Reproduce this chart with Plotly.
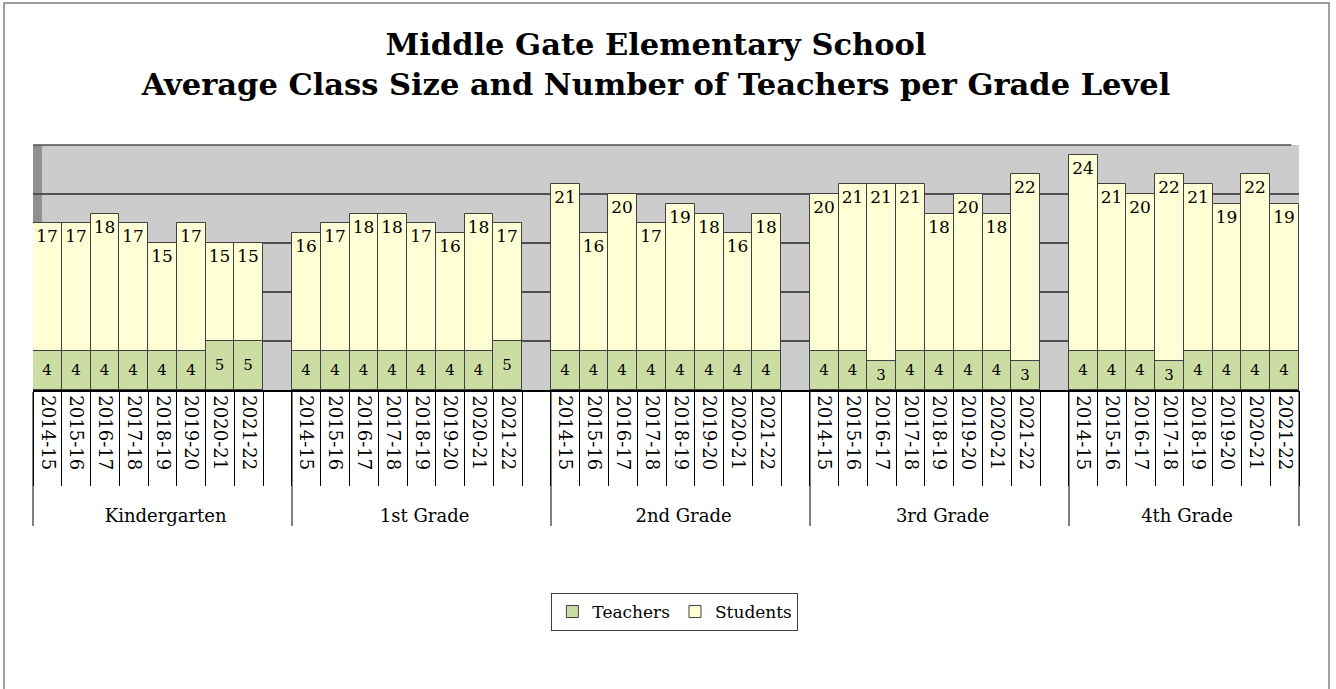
import plotly.graph_objects as go

grades = ["Kindergarten", "1st Grade", "2nd Grade", "3rd Grade", "4th Grade"]
years = ["2014-15", "2015-16", "2016-17", "2017-18", "2018-19", "2019-20", "2020-21", "2021-22"]

students_k = [17, 17, 18, 17, 15, 17, 15, 15]
students_1 = [16, 17, 18, 18, 17, 16, 18, 17]
students_2 = [21, 16, 20, 17, 19, 18, 16, 18]
students_3 = [20, 21, 21, 21, 18, 20, 18, 22]
students_4 = [24, 21, 20, 22, 21, 19, 22, 19]

teachers_k = [4, 4, 4, 4, 4, 4, 5, 5]
teachers_1 = [4, 4, 4, 4, 4, 4, 4, 5]
teachers_2 = [4, 4, 4, 4, 4, 4, 4, 4]
teachers_3 = [4, 4, 3, 4, 4, 4, 4, 3]
teachers_4 = [4, 4, 4, 3, 4, 4, 4, 4]

students = [students_k, students_1, students_2, students_3, students_4]
teachers = [teachers_k, teachers_1, teachers_2, teachers_3, teachers_4]

PAD = "\u00a0\u00a0\u00a0"  # keeps the grade labels a little below the year labels
outer, inner, s_vals, t_vals = [], [], [], []
for gi, g in enumerate(grades):
    for yi, yr in enumerate(years):
        outer.append(g)
        inner.append(yr + PAD)
        s_vals.append(students[gi][yi])
        t_vals.append(teachers[gi][yi])
    if gi < len(grades) - 1:
        outer.append(g)
        inner.append(" ")
        s_vals.append(None)
        t_vals.append(None)

n = len(outer)
FONT = "DejaVu Serif"
EDGE = "#404040"

fig = go.Figure()
fig.add_trace(go.Bar(
    x=[outer, inner], y=s_vals, name="Students",
    marker=dict(color="#ffffd5", line=dict(color=EDGE, width=1)),
    text=[str(v) if v is not None else "" for v in s_vals],
    textposition="inside", insidetextanchor="end", textangle=0,
    textfont=dict(family=FONT, size=17, color="black"),
    constraintext="none", hoverinfo="x+y+name",
))
fig.add_trace(go.Bar(
    x=[outer, inner], y=t_vals, name="Teachers",
    marker=dict(color="#cbdda3", line=dict(color=EDGE, width=1)),
    text=[str(v) if v is not None else "" for v in t_vals],
    textposition="inside", insidetextanchor="middle", textangle=0,
    textfont=dict(family=FONT, size=15, color="black"),
    constraintext="none", hoverinfo="x+y+name",
))
# invisible helper on a second x axis: draws the long separators between year labels
fig.add_trace(go.Scatter(
    x=list(range(n)), y=[None] * n, xaxis="x2", mode="lines",
    showlegend=False, hoverinfo="skip",
))

# chart frame, 3-D side wall and top edge of the back wall
fig.add_shape(type="rect", xref="paper", yref="paper",
              x0=-0.0229, x1=1.0237, y0=-1.3, y1=1.5796,
              line=dict(color="#808080", width=1.5), fillcolor="rgba(0,0,0,0)", layer="below")
fig.add_shape(type="rect", xref="paper", yref="paper",
              x0=0, x1=0.007, y0=0, y1=1,
              line=dict(width=0), fillcolor="#8f8f8f", layer="below")
fig.add_shape(type="line", xref="paper", yref="paper",
              x0=0, x1=0.994, y0=1, y1=1,
              line=dict(color="#505050", width=1.5), layer="below")

fig.update_layout(
    width=1336, height=689,
    margin=dict(l=33, r=37, t=145, b=299, autoexpand=False),
    paper_bgcolor="white", plot_bgcolor="#cccccc",
    barmode="overlay", bargap=0,
    font=dict(family=FONT, color="black"),
    title=dict(
        text="<b>Middle Gate Elementary School<br>Average Class Size and Number of Teachers per Grade Level</b>",
        font=dict(family=FONT, size=30.5, color="black"),
        x=0.491, xanchor="center", xref="container",
        y=1 - 55 / 689, yanchor="middle", yref="container",
    ),
    legend=dict(
        orientation="h", x=0.507, xanchor="center", y=-0.906, yanchor="middle",
        bordercolor="#404040", borderwidth=1, bgcolor="white",
        font=dict(family=FONT, size=17), traceorder="reversed",
    ),
    showlegend=True,
    xaxis=dict(
        type="multicategory", range=[-0.5, n - 0.5],
        showline=True, linecolor="black", linewidth=1.5,
        ticks="", tickangle=90, tickfont=dict(family=FONT, size=18),
        showdividers=True, dividercolor="#808080", dividerwidth=1.5,
        showgrid=False,
    ),
    xaxis2=dict(
        overlaying="x", anchor="y", side="bottom", type="linear",
        range=[-0.5, n - 0.5],
        tickmode="array", tickvals=[i - 0.5 for i in range(n + 1)],
        ticks="outside", ticklen=95, tickcolor="black", tickwidth=1,
        showticklabels=False, showgrid=False, zeroline=False, showline=False,
    ),
)
fig.update_yaxes(
    range=[0, 25], dtick=5, showticklabels=False,
    showgrid=True, gridcolor="#505050", gridwidth=1.5,
    zeroline=False, showline=False,
)

fig.write_html(
    "out.html",
    config={"displayModeBar": False},
    post_script="document.body.style.margin='0px';document.body.style.overflow='hidden';",
)
